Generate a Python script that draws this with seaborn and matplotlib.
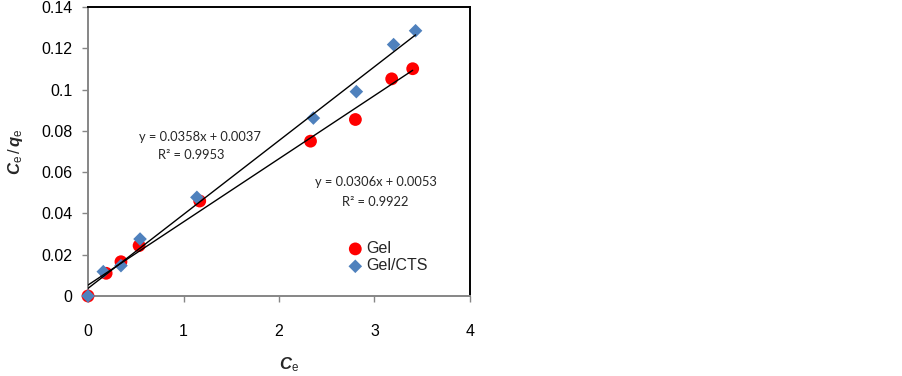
import numpy as np
import pandas as pd
import seaborn as sns
import matplotlib.pyplot as plt

# Gel (red circles)
gel_ce = [0.0, 0.19, 0.345, 0.535, 1.17, 2.33, 2.80, 3.18, 3.40]
gel_ratio = [0.0, 0.0110, 0.0166, 0.0244, 0.0460, 0.0750, 0.0855, 0.1052, 0.1101]
# Gel/CTS (blue diamonds)
cts_ce = [0.0, 0.16, 0.345, 0.545, 1.14, 2.36, 2.81, 3.20, 3.43]
cts_ratio = [0.0, 0.0118, 0.0147, 0.0276, 0.0478, 0.0862, 0.0990, 0.1218, 0.1285]

# linear fits as printed on the chart
gel_slope, gel_icpt, gel_r2 = 0.0306, 0.0053, 0.9922
cts_slope, cts_icpt, cts_r2 = 0.0358, 0.0037, 0.9953

x_ticks = [0, 1, 2, 3, 4]
y_ticks = [0, 0.02, 0.04, 0.06, 0.08, 0.1, 0.12, 0.14]
y_tick_labels = ['0', '0.02', '0.04', '0.06', '0.08', '0.1', '0.12', '0.14']

sns.set_style('white')
plt.rcParams['font.family'] = ['Liberation Sans', 'DejaVu Sans']
plt.rcParams['mathtext.fontset'] = 'custom'
plt.rcParams['mathtext.it'] = 'Liberation Sans:italic:bold'
plt.rcParams['mathtext.rm'] = 'Liberation Sans'

gel = pd.DataFrame({'ce': gel_ce, 'ratio': gel_ratio})
cts = pd.DataFrame({'ce': cts_ce, 'ratio': cts_ratio})

fig = plt.figure(figsize=(9.03, 3.76), dpi=100)
ax = fig.add_axes([88/903, 1-296/376, (470-88)/903, (296-7)/376])

sns.scatterplot(data=gel, x='ce', y='ratio', ax=ax, color='#FF0000', marker='o',
                s=85, edgecolor='none', label='Gel', clip_on=False, zorder=3)
sns.scatterplot(data=cts, x='ce', y='ratio', ax=ax, color='#4F81BD', marker='D',
                s=48, edgecolor='none', label='Gel/CTS', clip_on=False, zorder=4)

# trendlines
for xs, k, b in [(gel_ce, gel_slope, gel_icpt), (cts_ce, cts_slope, cts_icpt)]:
    xx = np.array([0, max(xs)])
    ax.plot(xx, k*xx + b, color='black', lw=1.0, zorder=5)

eq_font = dict(family=['Lato', 'DejaVu Sans'], fontsize=9.3, ha='center', va='center')
ax.text(1.17, 0.0770, f'y = {cts_slope:.4f}x + {cts_icpt:.4f}', **eq_font)
ax.text(1.08, 0.0683, f'R² = {cts_r2:.4f}', **eq_font)
ax.text(3.02, 0.0554, f'y = {gel_slope:.4f}x + {gel_icpt:.4f}', **eq_font)
ax.text(3.01, 0.0457, f'R² = {gel_r2:.4f}', **eq_font)

ax.set_xlim(0, 4)
ax.set_ylim(0, 0.14)
ax.set_xticks(x_ticks)
ax.set_yticks(y_ticks)
ax.set_yticklabels(y_tick_labels)
ax.tick_params(axis='both', labelsize=11.5, colors='#868686', labelcolor='black',
               direction='out', length=4, width=1)
ax.tick_params(axis='x', pad=16)
ax.tick_params(axis='y', pad=7)
ax.tick_params(bottom=True, left=True)

for side in ['left', 'bottom']:
    ax.spines[side].set_color('#868686')
    ax.spines[side].set_linewidth(1.4)
for side in ['top', 'right']:
    ax.spines[side].set_color('black')
    ax.spines[side].set_linewidth(1.4)

ax.set_xlabel(r'$\mathit{C}_\mathrm{e}$', fontsize=12)
ax.xaxis.set_label_coords(0.525, -0.205)
ax.set_ylabel(r'$\mathit{C}_\mathrm{e}\,/\,\mathit{q}_\mathrm{e}$', fontsize=12)
ax.yaxis.set_label_coords(-0.165, 0.5)

ax.legend(loc='upper left', bbox_to_anchor=(0.683, 0.19), frameon=False,
          fontsize=11.5, borderpad=0, handlelength=0.8, handletextpad=0.3,
          labelspacing=0.15, scatterpoints=1, borderaxespad=0)

fig.savefig('out.png', dpi=100)
